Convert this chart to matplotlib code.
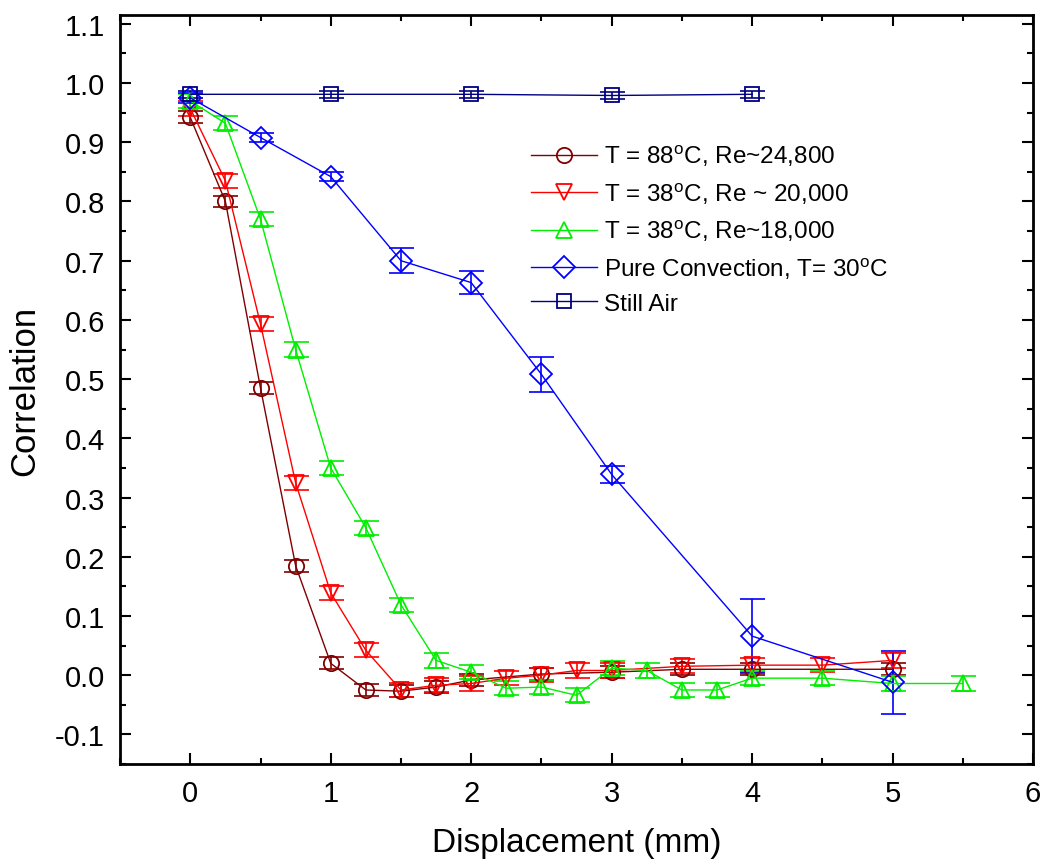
import numpy as np
import matplotlib
matplotlib.use("Agg")
import matplotlib.pyplot as plt
from matplotlib.ticker import MultipleLocator, FormatStrFormatter

plt.rcParams['font.family'] = ['Liberation Sans', 'DejaVu Sans']
plt.rcParams['mathtext.fontset'] = 'custom'
plt.rcParams['mathtext.rm'] = 'Liberation Sans'
plt.rcParams['axes.unicode_minus'] = False

# T = 88 C, Re~24,800
x88 = [0, 0.25, 0.5, 0.75, 1.0, 1.25, 1.5, 1.75, 2.0, 2.5, 3.0, 3.5, 4.0, 5.0]
y88 = [0.942, 0.80, 0.485, 0.185, 0.02, -0.025, -0.027, -0.02, -0.008, 0.002, 0.005, 0.01, 0.01, 0.01]

# T = 38 C, Re ~ 20,000
x20k = [0, 0.25, 0.5, 0.75, 1.0, 1.25, 1.5, 1.75, 2.0, 2.25, 2.5, 2.75, 3.0, 3.5, 4.0, 4.5, 5.0]
y20k = [0.957, 0.835, 0.593, 0.325, 0.139, 0.042, -0.025, -0.017, -0.014, -0.005, 0.0, 0.008, 0.008,
        0.015, 0.017, 0.017, 0.025]

# T = 38 C, Re~18,000
x18k = [0, 0.25, 0.5, 0.75, 1.0, 1.25, 1.5, 1.75, 2.0, 2.25, 2.5, 2.75, 3.0, 3.25, 3.5, 3.75,
        4.0, 4.5, 5.0, 5.5]
y18k = [0.97, 0.932, 0.77, 0.55, 0.35, 0.249, 0.119, 0.025, 0.005, -0.022, -0.02, -0.034, 0.012,
        0.008, -0.025, -0.025, -0.005, -0.005, -0.014, -0.014]

# Pure convection, T = 30 C
xconv = [0, 0.5, 1.0, 1.5, 2.0, 2.5, 3.0, 4.0, 5.0]
yconv = [0.975, 0.908, 0.842, 0.70, 0.663, 0.508, 0.339, 0.066, -0.012]
econv = [0.008, 0.008, 0.008, 0.021, 0.02, 0.03, 0.015, 0.063, 0.053]

# Still air
xstill = [0, 1, 2, 3, 4]
ystill = [0.981, 0.981, 0.981, 0.979, 0.981]

labels = [r'T = 88$^{\mathrm{o}}$C, Re~24,800',
          r'T = 38$^{\mathrm{o}}$C, Re ~ 20,000',
          r'T = 38$^{\mathrm{o}}$C, Re~18,000',
          r'Pure Convection, T= 30$^{\mathrm{o}}$C',
          'Still Air']

fig = plt.figure(figsize=(10.42, 8.62), dpi=100)
ax = fig.add_axes([0.1152, 0.1125, 0.8762, 0.869])

series = [
    (x88, y88, [0.01] * len(x88), 'o', '#800000', 11),
    (x20k, y20k, [0.012] * len(x20k), 'v', '#ff0000', 12),
    (x18k, y18k, [0.012] * len(x18k), '^', '#00ee00', 12),
    (xconv, yconv, econv, 'D', '#0000ff', 11),
    (xstill, ystill, [0.006] * len(xstill), 's', '#000080', 10),
]

handles = []
for (xs, ys, es, mk, col, ms), lab in zip(series, labels):
    ax.errorbar(xs, ys, yerr=es, fmt='none', ecolor=col, elinewidth=1.2,
                capsize=9, capthick=1.2, zorder=2)
    h, = ax.plot(xs, ys, marker=mk, color=col, lw=1, ms=ms, mfc='none',
                 mec=col, mew=1.3, label=lab, zorder=3)
    handles.append(h)

ax.set_xlim(-0.5, 6)
ax.set_ylim(-0.15, 1.115)
ax.xaxis.set_major_locator(MultipleLocator(1))
ax.xaxis.set_minor_locator(MultipleLocator(0.5))
ax.yaxis.set_major_locator(MultipleLocator(0.1))
ax.yaxis.set_minor_locator(MultipleLocator(0.05))
ax.yaxis.set_major_formatter(FormatStrFormatter('%.1f'))
ax.xaxis.set_major_formatter(FormatStrFormatter('%d'))

ax.tick_params(which='both', direction='in', top=True, right=True, labelsize=21, width=1.5)
ax.tick_params(which='major', length=8, pad=11)
ax.tick_params(which='minor', length=4)
for s in ax.spines.values():
    s.set_linewidth(2)

ax.set_xlabel('Displacement (mm)', fontsize=24, labelpad=14)
ax.set_ylabel('Correlation', fontsize=25, labelpad=10)

ax.legend(handles=handles, loc='upper left', bbox_to_anchor=(0.44, 0.843),
          frameon=False, fontsize=17.5, handlelength=2.7, labelspacing=0.48,
          handletextpad=0.3, borderaxespad=0)

fig.savefig('out.png', dpi=100)
